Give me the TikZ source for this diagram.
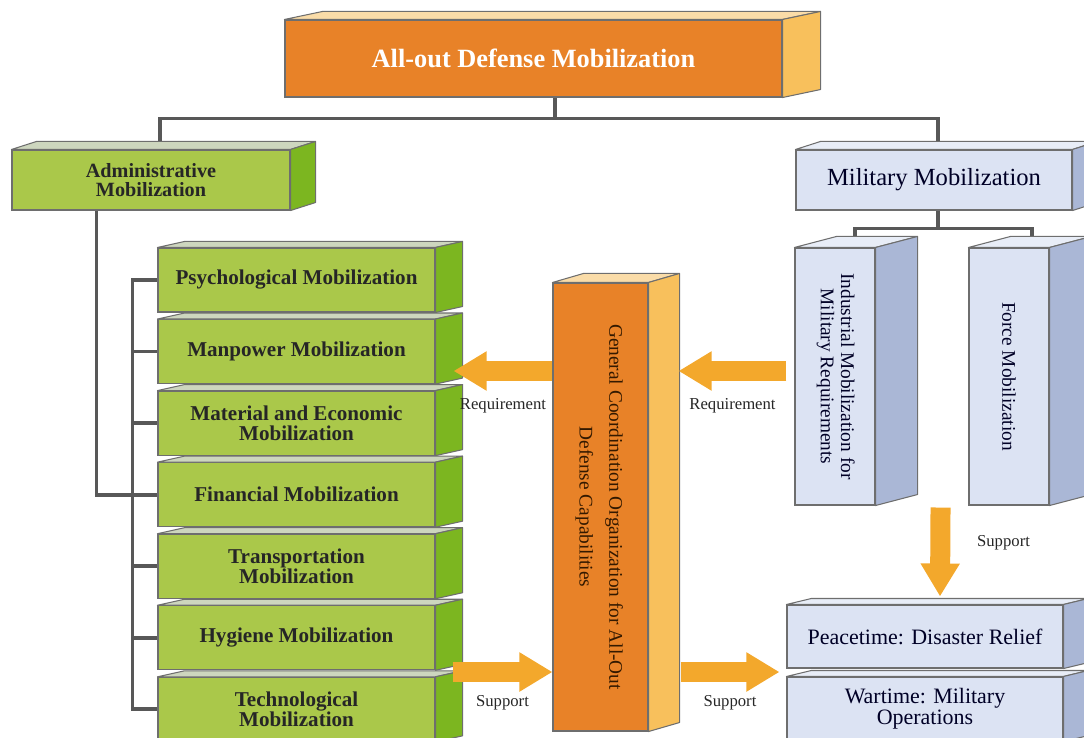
\documentclass[tikz,border=0pt]{standalone}
\usepackage{fontspec}
\setmainfont{Liberation Serif}
\usetikzlibrary{positioning,arrows.meta,backgrounds,calc}

\definecolor{orfront}{RGB}{232,130,40}
\definecolor{orside}{RGB}{248,192,92}
\definecolor{ortop}{RGB}{250,220,168}
\definecolor{grfront}{RGB}{170,200,74}
\definecolor{grside}{RGB}{124,182,32}
\definecolor{grtop}{RGB}{205,214,190}
\definecolor{blfront}{RGB}{220,227,243}
\definecolor{blside}{RGB}{170,183,214}
\definecolor{bltop}{RGB}{232,237,247}
\definecolor{arrowor}{RGB}{243,168,44}
\definecolor{linegray}{RGB}{88,88,88}
\definecolor{edgegray}{RGB}{110,110,110}

% top and right faces of a box node: name, dx, dy, top colour, side colour
\newcommand{\cubefaces}[5]{%
  \filldraw[face, fill=#4] (#1.north west) -- ++(#2,#3) -- ([shift={(#2,#3)}]#1.north east) -- (#1.north east) -- cycle;
  \filldraw[face, fill=#5] (#1.north east) -- ++(#2,#3) -- ([shift={(#2,#3)}]#1.south east) -- (#1.south east) -- cycle;}

\begin{document}
\begin{tikzpicture}[
  face/.style={draw=edgegray, line width=0.6pt, line join=round},
  orbox/.style={rectangle, draw=edgegray, line width=0.6pt, fill=orfront, align=center, inner sep=2pt},
  grbox/.style={rectangle, draw=edgegray, line width=0.6pt, fill=grfront, align=center, inner sep=2pt,
             minimum width=5.54cm, minimum height=1.28cm, text=black!85,
             font=\fontsize{12}{11.5}\selectfont\bfseries},
  blbox/.style={rectangle, draw=edgegray, line width=0.6pt, fill=blfront, align=center, inner sep=2pt,
             text=black!85!blue},
  conn/.style={line width=2.2pt, linegray},
  blockarr/.style={line width=0.4cm, arrowor, -{Triangle[length=0.66cm, width=0.74cm]}},
  lbl/.style={font=\fontsize{9.5}{10}\selectfont, text=black!85, inner sep=1pt},
]
\useasboundingbox (0,0) rectangle (21.68,-14.76);

\node[orbox, minimum width=9.94cm, minimum height=1.54cm, text=white,
      font=\fontsize{15}{16}\selectfont\bfseries] (allout) at (10.67,-1.17) {All-out Defense Mobilization};
\node[grbox, minimum width=5.56cm, minimum height=1.2cm, font=\fontsize{11.5}{10.5}\selectfont\bfseries]
  (admin) at (3.02,-3.6) {Administrative\\Mobilization};
\node[blbox, minimum width=5.52cm, minimum height=1.2cm, font=\fontsize{14}{15}\selectfont]
  (mil) at (18.68,-3.6) {Military Mobilization};

\node[grbox] (psy) at (5.93,-5.6) {Psychological Mobilization};
\node[grbox, below=0.13cm of psy] (man) {Manpower Mobilization};
\node[grbox, below=0.13cm of man] (mat) {Material and Economic\\Mobilization};
\node[grbox, below=0.13cm of mat] (fin) {Financial Mobilization};
\node[grbox, below=0.13cm of fin] (tra) {Transportation\\Mobilization};
\node[grbox, below=0.13cm of tra] (hyg) {Hygiene Mobilization};
\node[grbox, below=0.13cm of hyg] (tec) {Technological\\Mobilization};

\node[orbox, minimum width=1.9cm, minimum height=8.96cm, text=black!80!orange,
      font=\fontsize{11}{17}\selectfont] (gco) at (12.01,-10.14)
  {\rotatebox{-90}{\begin{tabular}{@{}c@{}}General Coordination Organization for All-Out\\ Defense Capabilities\end{tabular}}};

\node[blbox, minimum width=1.6cm, minimum height=5.14cm, font=\fontsize{11}{11.5}\selectfont] (ind) at (16.7,-7.53)
  {\rotatebox{-90}{\begin{tabular}{@{}c@{}}Industrial Mobilization for\\ Military Requirements\end{tabular}}};
\node[blbox, minimum width=1.6cm, minimum height=5.14cm, font=\fontsize{11}{11.5}\selectfont] (force) at (20.18,-7.53)
  {\rotatebox{-90}{Force Mobilization}};

\node[blbox, minimum width=5.52cm, minimum height=1.26cm, font=\fontsize{12.5}{10.5}\selectfont]
  (peace) at (18.5,-12.73) {Peacetime: Disaster Relief};
\node[blbox, minimum width=5.52cm, minimum height=1.28cm, font=\fontsize{12.5}{10.5}\selectfont]
  (war) at (18.5,-14.18) {Wartime: Military\\Operations};

\cubefaces{allout}{0.76}{0.16}{ortop}{orside}
\cubefaces{admin}{0.5}{0.16}{grtop}{grside}
\cubefaces{mil}{0.5}{0.16}{bltop}{blside}
\foreach \n in {psy,man,mat,fin,tra,hyg,tec}
  \cubefaces{\n}{0.54}{0.12}{grtop}{grside};
\cubefaces{gco}{0.62}{0.18}{ortop}{orside}
\cubefaces{ind}{0.84}{0.22}{bltop}{blside}
\cubefaces{force}{0.84}{0.22}{bltop}{blside}
\cubefaces{peace}{0.5}{0.12}{bltop}{blside}
\cubefaces{war}{0.5}{0.12}{bltop}{blside}

\begin{scope}[on background layer]
  \draw[conn] ([xshift=0.43cm]allout.south) -- ++(0,-0.42) -| ([xshift=0.18cm]admin.north);
  \draw[conn] ([xshift=0.43cm]allout.south) -- ++(0,-0.42) -| ([xshift=0.08cm]mil.north);
  \draw[conn] ([xshift=1.7cm]admin.south west) |- (fin.west);
  \draw[conn] (psy.west) -- ++(-0.5,0) |- (tec.west);
  \foreach \n in {man,mat,fin,tra,hyg}
    \draw[conn] (\n.west) -- ++(-0.5,0);
  \draw[conn] ([xshift=0.08cm]mil.south) -- ++(0,-0.36) -| ([xshift=0.4cm]ind.north);
  \draw[conn] ([xshift=0.08cm]mil.south) -- ++(0,-0.36) -| ([xshift=0.46cm]force.north);
\end{scope}

% arrow heights taken on the coordination column
\coordinate (reqL) at ([yshift=2.72cm]gco.west);
\coordinate (reqR) at ([shift={(0.6,2.72)}]gco.east);
\coordinate (supL) at ([yshift=-3.3cm]gco.west);
\coordinate (supR) at ([shift={(0.64,-3.3)}]gco.east);

\draw[blockarr] (reqL) -- ([xshift=0.36cm]man.east |- reqL)
  node[lbl, midway, below=0.32cm] {Requirement};
\draw[blockarr] ([xshift=-0.16cm]ind.west |- reqR) -- (reqR)
  node[lbl, midway, below=0.32cm] {Requirement};
\draw[blockarr] ([xshift=0.34cm]tec.east |- supL) -- (supL)
  node[lbl, midway, below=0.24cm] {Support};
\draw[blockarr] (supR) -- ([xshift=-0.14cm]peace.west |- supR)
  node[lbl, midway, below=0.24cm] {Support};
\draw[blockarr] ([shift={(1.3,-0.04)}]ind.south east) -- ([shift={(0.3,0.16)}]peace.north)
  node[lbl, pos=0.4, right=0.5cm] {Support};
\end{tikzpicture}
\end{document}
